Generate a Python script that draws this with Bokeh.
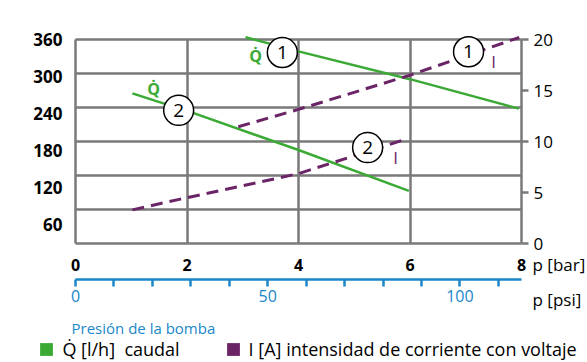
from bokeh.plotting import figure
from bokeh.models import Range1d, LinearAxis, FixedTicker, Label, Legend, LegendItem
from bokeh.core.properties import value
from bokeh.embed import file_html
from bokeh.resources import INLINE

# ---------------- data ----------------
bar_ticks = [0, 2, 4, 6, 8]
psi_ticks = [0, 10, 20, 30, 40, 50, 60, 70, 80, 90, 100, 110]
psi_shown = [0, 50, 100]
q_ticks = [60, 120, 180, 240, 300, 360]
q_grid = [0, 60, 120, 180, 240, 300, 360]
i_ticks = [0, 5, 10, 15, 20]
BAR_TO_PSI = 14.5038

# flow Q [l/h] vs pressure p [bar]
q1_p = [3.05, 4.0, 6.0, 7.95]
q1_q = [364, 339, 290, 238]
q2_p = [1.02, 2.12, 4.0, 5.98]
q2_q = [265, 230, 165, 93]
# current I [A] vs pressure p [bar]
i1_p = [2.92, 4.0, 6.0, 7.96]
i1_i = [11.45, 13.15, 16.5, 20.2]
i2_p = [1.02, 1.88, 4.0, 5.95]
i2_i = [3.3, 4.35, 6.85, 10.27]

# curve tags
q_tag_p = [3.71, 1.85]
q_tag_q = [337, 235]
i_tag_p = [7.05, 5.24]
i_tag_i = [18.8, 9.4]
tag_text = ["1", "2"]
qdot_p = [3.23, 1.40]
qdot_q = [331, 273]
ilab_p = [7.50, 5.74]
ilab_i = [17.8, 8.4]

legend_labels = ["Q\u0307 [l/h]  caudal", "I [A] intensidad de corriente con voltaje"]

GREEN = "#3aaa35"
PURPLE = "#6b2466"
BLUE = "#1a87c9"
GRID = "#7a7a7a"
FONT = "Open Sans"

# ---------------- layout (pixels) ----------------
W, H = 587, 362
FL, FR, FT, FB = 75, 521, 39, 243          # chart box
px_bar = (FR - FL) / 8.0
px_q = (FB - FT) / 360.0
px_lab = (FB - FT) / 330.0
px_amp = (FB - FT) / 20.0

def y_at(py):
    return (FB - py) / px_q

def x_at(px):
    return (px - FL) / px_bar

x_rng = Range1d(-FL / px_bar, 8 + (W - FR) / px_bar)
y_rng = Range1d(-(H - FB) / px_q, 360 + FT / px_q)

p = figure(width=W, height=H, x_range=x_rng, y_range=y_rng,
           output_backend="svg", toolbar_location=None,
           x_axis_location=None, y_axis_location=None, min_border=0,
           background_fill_color="white", border_fill_color="white")
p.outline_line_color = None
p.extra_y_ranges = {
    "lab": Range1d(30 - (H - FB) / px_lab, 360 + FT / px_lab),
    "amp": Range1d(-(H - FB) / px_amp, 20 + FT / px_amp),
}
p.extra_x_ranges = {"psi": Range1d(x_rng.start * BAR_TO_PSI, x_rng.end * BAR_TO_PSI)}

p.xgrid.ticker = FixedTicker(ticks=bar_ticks)
p.xgrid.cross_bounds = (0, 360)
p.ygrid.ticker = FixedTicker(ticks=q_grid)
p.ygrid.cross_bounds = (0, 8)
p.grid.grid_line_color = GRID
p.grid.grid_line_width = 2.5

# bar axis
xa = LinearAxis(ticker=FixedTicker(ticks=bar_ticks), fixed_location=0,
                axis_line_color=None, major_tick_line_color=None, minor_tick_line_color=None,
                major_label_standoff=9, major_label_text_font=FONT,
                major_label_text_font_style="bold", major_label_text_font_size="16px",
                major_label_text_color="black")
p.add_layout(xa, "below")

# psi axis
overrides = {t: (str(t) if t in psi_shown else "") for t in psi_ticks}
pa = LinearAxis(x_range_name="psi", ticker=FixedTicker(ticks=psi_ticks),
                fixed_location=y_at(279), bounds=(0, 8 * BAR_TO_PSI),
                major_label_overrides=overrides,
                axis_line_color=BLUE, axis_line_width=2.5,
                major_tick_line_color=BLUE, major_tick_line_width=2.5,
                major_tick_in=0, major_tick_out=7, minor_tick_line_color=None,
                major_label_standoff=3, major_label_text_font=FONT,
                major_label_text_font_size="16px", major_label_text_color=BLUE)
p.add_layout(pa, "below")

# left axis labels
la = LinearAxis(y_range_name="lab", ticker=FixedTicker(ticks=q_ticks), fixed_location=0,
                axis_line_color=None, major_tick_line_color=None, minor_tick_line_color=None,
                major_label_standoff=7, major_label_text_font=FONT,
                major_label_text_font_style="bold", major_label_text_font_size="17px",
                major_label_text_color="black")
p.add_layout(la, "left")

# right axis
ra = LinearAxis(y_range_name="amp", ticker=FixedTicker(ticks=i_ticks), fixed_location=8,
                axis_line_color=None, major_tick_line_color=GRID, major_tick_line_width=2.5,
                major_tick_in=0, major_tick_out=7, minor_tick_line_color=None,
                major_label_standoff=5, major_label_text_font=FONT,
                major_label_text_font_size="17px", major_label_text_color="black")
p.add_layout(ra, "right")

# curves
p.line(q1_p, q1_q, line_color=GREEN, line_width=2.5)
p.line(q2_p, q2_q, line_color=GREEN, line_width=2.5)
p.line(i1_p, i1_i, y_range_name="amp", line_color=PURPLE, line_width=3, line_dash="12 7")
p.line(i2_p, i2_i, y_range_name="amp", line_color=PURPLE, line_width=3, line_dash="12 7")

# tags
p.scatter(q_tag_p, q_tag_q, marker="circle", size=30, fill_color="white",
          line_color="black", line_width=1.5)
p.scatter(i_tag_p, i_tag_i, y_range_name="amp", marker="circle", size=30,
          fill_color="white", line_color="black", line_width=1.5)
p.text(q_tag_p, q_tag_q, text=tag_text, text_align="center", text_baseline="middle",
       text_font=value(FONT), text_font_size="19px", text_color="black")
p.text(i_tag_p, i_tag_i, text=tag_text, y_range_name="amp", text_align="center",
       text_baseline="middle", text_font=value(FONT), text_font_size="19px", text_color="black")
p.text(qdot_p, qdot_q, text=["Q\u0307", "Q\u0307"], text_align="center", text_baseline="middle",
       text_font=value(FONT), text_font_size="16px", text_font_style="bold", text_color=GREEN)
p.text(ilab_p, ilab_i, text=["I", "I"], y_range_name="amp", text_align="center",
       text_baseline="middle", text_font=value(FONT), text_font_size="17px", text_color=PURPLE)

# axis titles
p.add_layout(Label(x=x_at(532), y=y_at(264), text="p [bar]", text_baseline="middle",
                   text_font=FONT, text_font_size="17px", text_color="black"))
p.add_layout(Label(x=x_at(532), y=y_at(299), text="p [psi]", text_baseline="middle",
                   text_font=FONT, text_font_size="17px", text_color="black"))
p.add_layout(Label(x=x_at(71), y=y_at(327), text="Presión de la bomba", text_baseline="middle",
                   text_font=FONT, text_font_size="15px", text_color=BLUE))

# legend swatches (renderers kept outside the visible ranges; only their legend glyph shows)
r_q = p.quad(left=[-3.0], right=[-2.9], top=[-400], bottom=[-401],
             fill_color=GREEN, line_color=None)
r_i = p.quad(left=[-3.0], right=[-2.9], top=[-400], bottom=[-401],
             fill_color=PURPLE, line_color=None)
legend = Legend(items=[LegendItem(label=legend_labels[0], renderers=[r_q]),
                       LegendItem(label=legend_labels[1], renderers=[r_i])],
                orientation="horizontal", location=(38.4, 1), glyph_width=16, glyph_height=16,
                label_standoff=8, spacing=45, padding=0, margin=0, border_line_color=None,
                background_fill_alpha=0, label_text_font=FONT, label_text_font_size="18px",
                label_text_color="black")
p.add_layout(legend, "center")

open("out.html", "w").write(file_html(p, INLINE))
